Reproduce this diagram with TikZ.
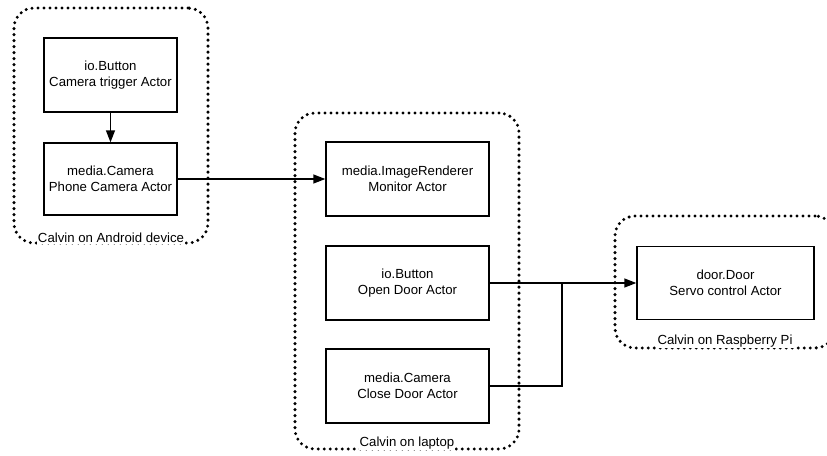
\documentclass[tikz,border=0pt]{standalone}
\usepackage{fontspec}
\setmainfont{Liberation Sans}
\usetikzlibrary{arrows.meta}
\begin{document}
\begin{tikzpicture}[x=1pt,y=-1pt,
  actor/.style={draw, line width=1.4pt, align=center, inner sep=0pt,
    font=\fontsize{13.2}{16}\selectfont},
  group/.style={draw, line width=3.3pt, dash pattern=on 0pt off 6pt,
    line cap=round, rounded corners=20pt, inner sep=0pt},
  grouplabel/.style={fill=white, inner sep=1pt,
    font=\fontsize{13.2}{16}\selectfont},
  link/.style={line width=1.4pt},
  flow/.style={line width=1.4pt, -{Triangle[length=12pt,width=9pt]}}]
\useasboundingbox (0,0) rectangle (827,455);

% device groups
\node[group, minimum width=194pt, minimum height=235pt] (android) at (111,125.5) {};
\node[group, minimum width=224pt, minimum height=336pt] (laptop) at (407,281) {};
\node[group, minimum width=220pt, minimum height=132pt] (rpi) at (725,282) {};
\node[grouplabel] (androidlbl) at (111,238) {Calvin on Android device};
\node[grouplabel] (laptoplbl) at (407,443) {Calvin on laptop};
\node[grouplabel] (rpilbl) at (725,341) {Calvin on Raspberry Pi};

% actors
\node[actor, minimum width=133pt, minimum height=74pt] (trig) at (110.5,75) {io.Button\\Camera trigger Actor};
\node[actor, minimum width=133pt, minimum height=72pt] (cam) at (110.5,179) {media.Camera\\Phone Camera Actor};
\node[actor, minimum width=163pt, minimum height=74pt] (img) at (407.5,179) {media.ImageRenderer\\Monitor Actor};
\node[actor, minimum width=163pt, minimum height=74pt] (open) at (407.5,283) {io.Button\\Open Door Actor};
\node[actor, minimum width=163pt, minimum height=74pt] (close) at (407.5,386) {media.Camera\\Close Door Actor};
\node[actor, minimum width=177pt, minimum height=73pt] (door) at (725.5,283) {door.Door\\Servo control Actor};

% connections
\coordinate (join) at (562,283);
\draw[flow] (trig.south) -- (cam.north);
\draw[flow] (cam.east) -- (img.west);
\draw[flow] (open.east) -- (door.west);
\draw[link] (close.east) -| (join);
\end{tikzpicture}
\end{document}
